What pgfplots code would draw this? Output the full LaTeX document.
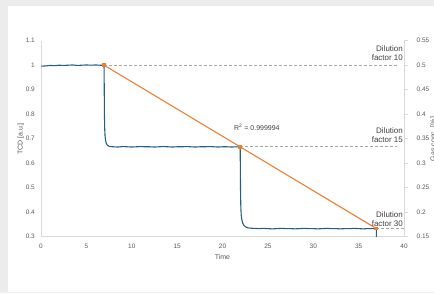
\documentclass[border=0pt]{standalone}
\usepackage{fontspec}
\setmainfont{Liberation Sans}
\usepackage{pgfplots}
\pgfplotsset{compat=1.18}
\definecolor{bggray}{HTML}{ECECEC}
\definecolor{axgray}{HTML}{D9D9D9}
\definecolor{tickgray}{HTML}{595959}
\definecolor{txtdark}{HTML}{404040}
\definecolor{dashgray}{HTML}{A6A6A6}
\definecolor{tcdblue}{HTML}{22608A}
\definecolor{fitorange}{HTML}{ED7D31}
\begin{document}
\begin{tikzpicture}[x=1bp,y=1bp]
\useasboundingbox (0,0) rectangle (434,293);
\fill[bggray] (0,0) rectangle (434,293);
\fill[white] (8,1.3) rectangle (434,287.3);
\pgfplotsset{every tick label/.append style={font=\fontsize{6.5}{7}\selectfont, text=tickgray}}
\begin{axis}[at={(41bp,56.3bp)}, anchor=south west, scale only axis,
  width=363bp, height=196bp,
  xmin=0, xmax=40, ymin=0.3, ymax=1.1,
  axis x line*=bottom, axis y line*=left,
  axis line style={draw=axgray, line width=0.7bp, -},
  xtick={0,5,10,15,20,25,30,35,40},
  ytick={0.3,0.4,0.5,0.6,0.7,0.8,0.9,1.0,1.1},
  major tick length=0pt, tick style={draw=none},
  /pgf/number format/assume math mode=true,
  yticklabel style={/pgf/number format/fixed, /pgf/number format/precision=1, anchor=east, inner sep=0pt, xshift=-6bp},
  xticklabel style={anchor=center, inner sep=0pt, yshift=-9.5bp},
]
\addplot[dashgray, dashed, dash pattern=on 3bp off 2bp, line width=0.8bp] coordinates {(6.95,1.0) (39.2,1.0)};
\addplot[dashgray, dashed, dash pattern=on 3bp off 2bp, line width=0.8bp] coordinates {(21.95,0.6667) (39.2,0.6667)};
\addplot[dashgray, dashed, dash pattern=on 3bp off 2bp, line width=0.8bp] coordinates {(36.95,0.3333) (40,0.3333)};
\addplot[tcdblue, line width=1.1bp, line join=round] coordinates {
(0,0.996) (0.5,0.997) (1,0.999) (1.5,0.998) (2,1.000) (2.5,0.999) (3,1.000) (3.5,1.001) (4,0.999) (4.5,1.000) (5,1.001) (5.5,1.000) (6,1.001) (6.5,1.000) (6.9,1.000)
(6.95,0.99) (6.97,0.90) (6.99,0.80) (7.02,0.74) (7.06,0.71) (7.12,0.692) (7.2,0.681) (7.3,0.674) (7.45,0.670) (7.6,0.668)
(8,0.667) (8.5,0.666) (9,0.668) (9.5,0.667) (10,0.666) (10.5,0.667) (11,0.668) (11.5,0.667) (12,0.667) (12.5,0.666) (13,0.667) (13.5,0.668) (14,0.667) (14.5,0.666) (15,0.667) (15.5,0.667) (16,0.668) (16.5,0.667) (17,0.666) (17.5,0.667) (18,0.667) (18.5,0.668) (19,0.667) (19.5,0.666) (20,0.667) (20.5,0.667) (21,0.666) (21.5,0.667) (21.9,0.666)
(21.95,0.655) (21.97,0.57) (21.99,0.48) (22.02,0.42) (22.06,0.39) (22.12,0.372) (22.2,0.358) (22.35,0.347) (22.5,0.341) (22.7,0.337)
(23,0.335) (23.5,0.334) (24,0.333) (24.5,0.334) (25,0.333) (25.5,0.332) (26,0.333) (26.5,0.334) (27,0.333) (27.5,0.333) (28,0.332) (28.5,0.333) (29,0.334) (29.5,0.333) (30,0.333) (30.5,0.332) (31,0.333) (31.5,0.334) (32,0.333) (32.5,0.333) (33,0.332) (33.5,0.333) (34,0.333) (34.5,0.334) (35,0.333) (35.5,0.332) (36,0.333) (36.5,0.333) (36.9,0.333)
(36.95,0.33) (36.96,0.29)
};
\end{axis}
\begin{axis}[at={(41bp,56.3bp)}, anchor=south west, scale only axis,
  width=363bp, height=196bp,
  xmin=0, xmax=40, ymin=0.15, ymax=0.55,
  axis x line=none, axis y line*=right,
  axis line style={draw=axgray, line width=0.7bp, -},
  ytick={0.15,0.2,0.25,0.3,0.35,0.4,0.45,0.5,0.55},
  tick align=outside, major tick length=3.5bp,
  ytick style={draw=axgray, line width=0.7bp},
  /pgf/number format/assume math mode=true,
  yticklabel style={/pgf/number format/fixed, /pgf/number format/precision=2, anchor=west, inner sep=0pt, xshift=9bp},
]
\addplot[fitorange, line width=1.1bp, mark=square*, mark size=1.4bp, mark options={fill=fitorange, draw=fitorange}] coordinates {(6.95,0.5) (21.95,0.33333) (36.95,0.16667)};
\end{axis}
\node[rotate=90, text=tickgray, font=\fontsize{7}{8}\selectfont] at (20.7,154) {TCD [a.u.]};
\node[text=tickgray, font=\fontsize{7}{8}\selectfont] at (222.5,36.3) {Time};
\node[rotate=90, text=tickgray, font=\fontsize{7}{8}\selectfont] at (433.5,154) {Gas conc. [\%]};
\node[text=txtdark, font=\fontsize{7}{8}\selectfont, anchor=west, inner sep=0pt] at (234,166) {R\textsuperscript{2} = 0.999994};
\node[text=txtdark, font=\fontsize{8}{9}\selectfont, align=right, anchor=east, inner sep=0pt] at (403,239.5) {Dilution\\factor 10};
\node[text=txtdark, font=\fontsize{8}{9}\selectfont, align=right, anchor=east, inner sep=0pt] at (403,158.3) {Dilution\\factor 15};
\node[text=txtdark, font=\fontsize{8}{9}\selectfont, align=right, anchor=east, inner sep=0pt] at (403,73.5) {Dilution\\factor 30};
\end{tikzpicture}
\end{document}
